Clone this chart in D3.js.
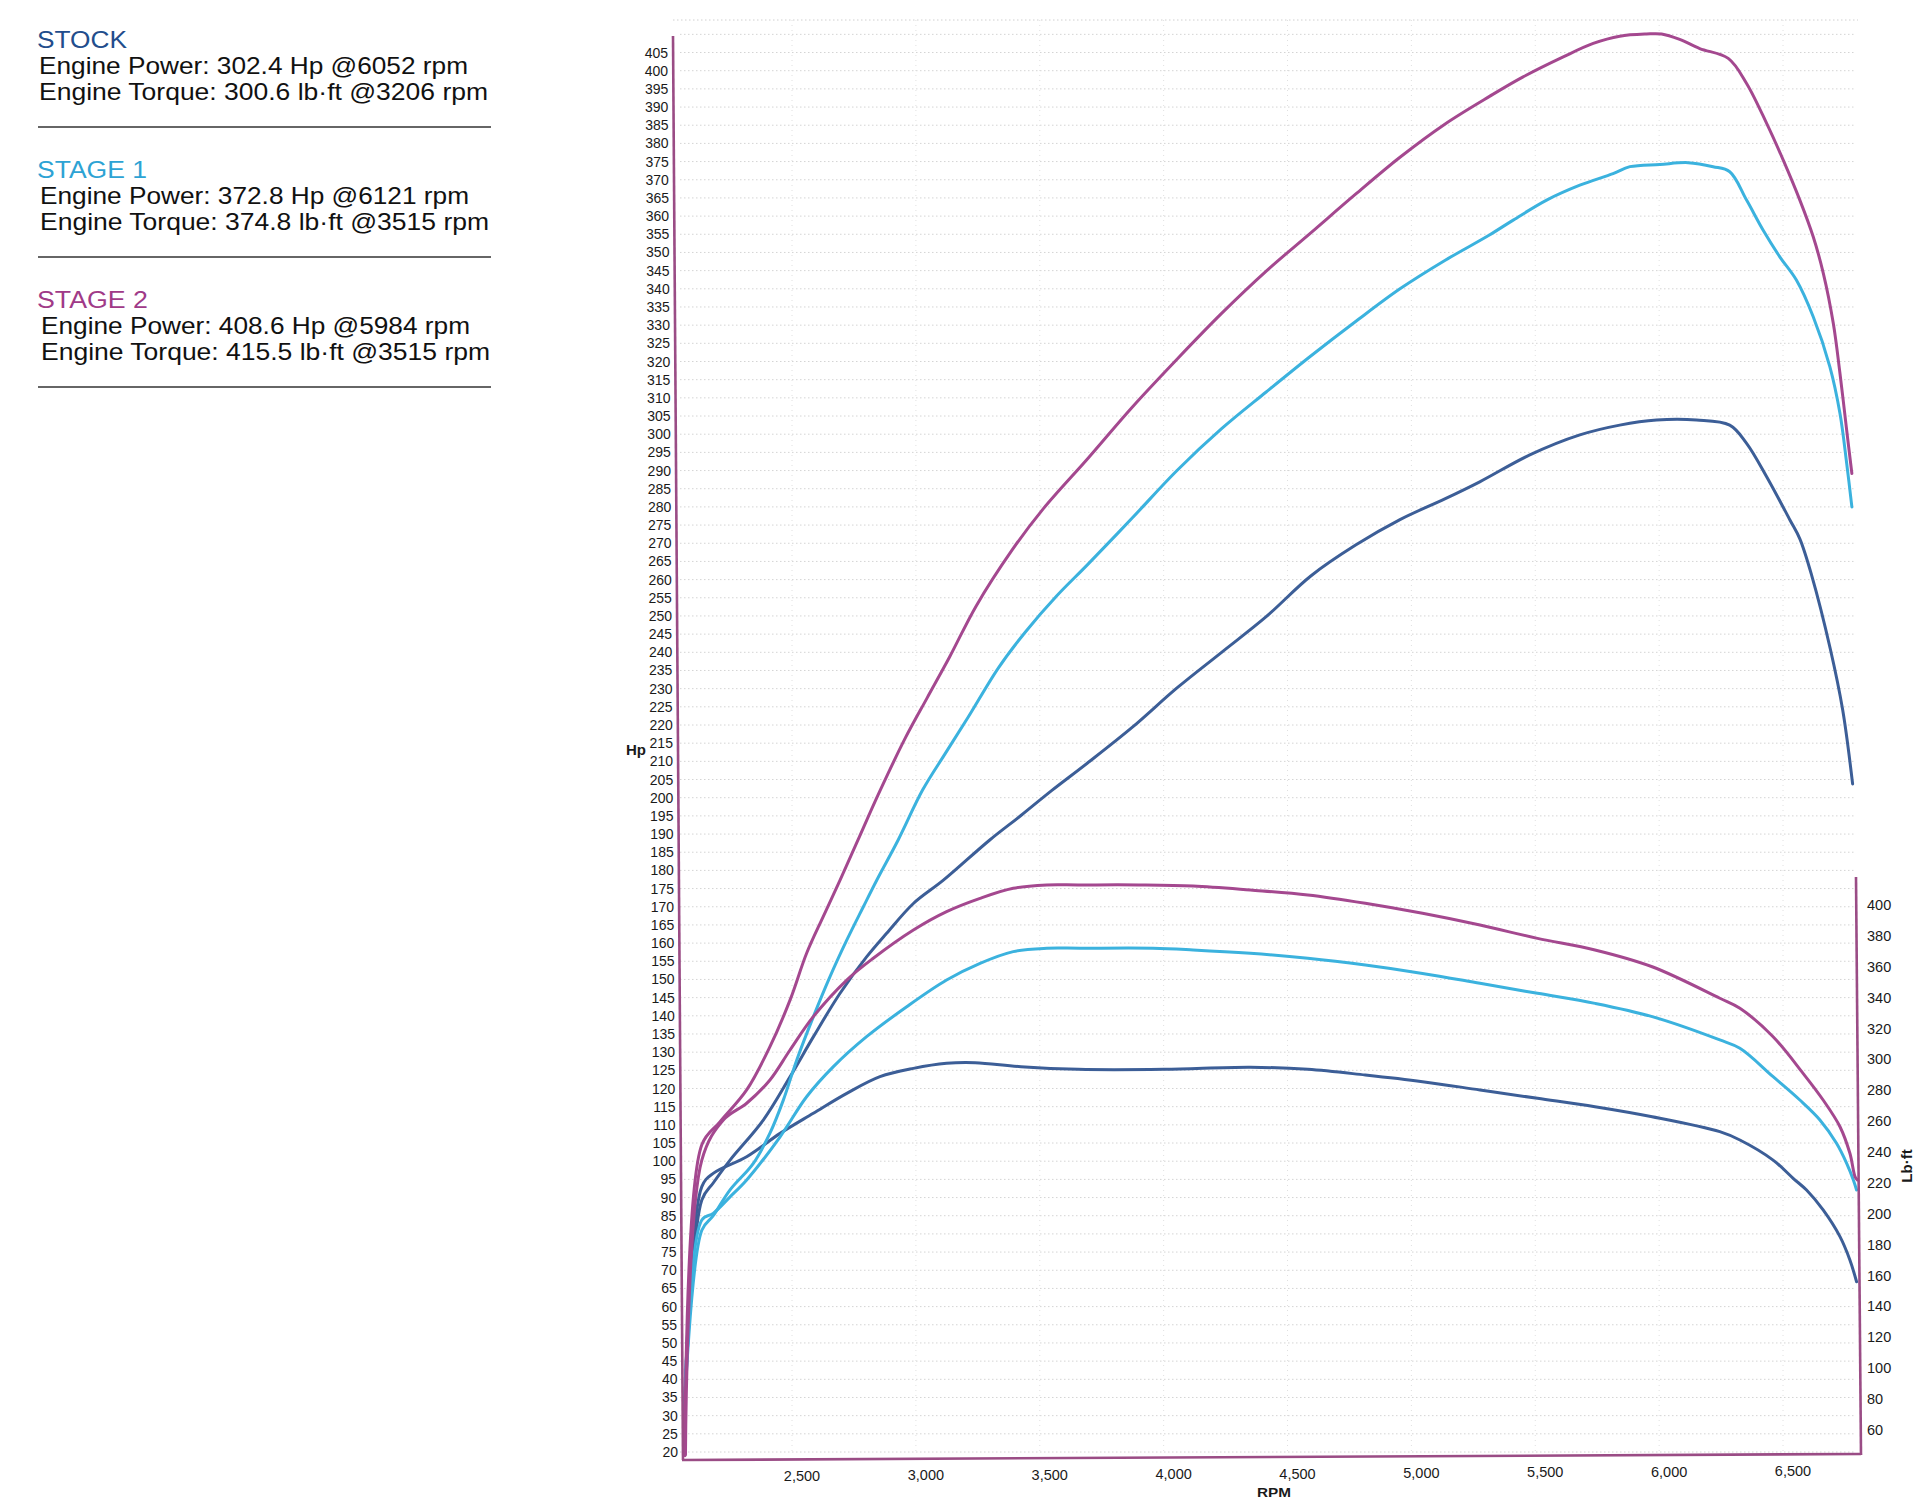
<!DOCTYPE html>
<html><head><meta charset="utf-8">
<script src="https://cdn.jsdelivr.net/npm/d3@7/dist/d3.min.js"></script>
<style>
html,body{margin:0;padding:0;background:#fff;}
svg{display:block;}
text{font-family:"Liberation Sans",Arial,sans-serif;}
</style></head><body>
<svg id="c" width="1920" height="1502"></svg>
<script>
// ---------- DATA ----------
const hpTicks = d3.range(20, 406, 5);
const tqTicks = d3.range(60, 401, 20);
const rpmTicks = [2500, 3000, 3500, 4000, 4500, 5000, 5500, 6000, 6500];
const rpmTickLabels = ["2,500", "3,000", "3,500", "4,000", "4,500", "5,000", "5,500", "6,000", "6,500"];

const seriesNames = ["STOCK", "STAGE 1", "STAGE 2"];
const peakPower = [302.4, 372.8, 408.6];
const peakPowerRpm = [6052, 6121, 5984];
const peakTorque = [300.6, 374.8, 415.5];
const peakTorqueRpm = [3206, 3515, 3515];

// [rpm, hp]
const stockHp = [[2066,30],[2136,89.3],[2182,94],[2250,100.3],[2384,111.3],[2492,123.2],[2586,134.2],[2694,146.2],[2801,156.2],[2882,162.7],[2990,170.9],[3111,177.3],[3297,188.3],[3424,195.1],[3549,202],[3694,209.6],[3874,219.4],[4054,230.2],[4234,240],[4414,249.8],[4594,261],[4775,269.5],[4954,276.5],[5135,282.2],[5276,286.9],[5478,294.3],[5680,299.8],[5841,302.5],[5990,303.9],[6151,303.9],[6285,302.5],[6353,297.5],[6434,288.3],[6528,276.4],[6568,271.2],[6616,261.1],[6691,240.9],[6741,224.1],[6781,203.8]];
const stage1Hp = [[2064,29],[2136,81],[2182,85],[2250,92.1],[2344,99.4],[2411,107.7],[2465,116.8],[2519,127.8],[2586,139.7],[2653,150.7],[2721,160.8],[2788,170],[2842,177.3],[2928,188.3],[3027,202.1],[3117,212],[3207,221.7],[3334,235.8],[3442,245.6],[3568,255.5],[3694,264.2],[3874,277],[4054,290],[4234,301.5],[4414,311.6],[4594,321.5],[4775,331],[4954,340],[5135,347.8],[5315,354.8],[5411,358.9],[5546,364.4],[5680,368.5],[5814,371.7],[5882,373.6],[6003,374.2],[6117,374.7],[6218,373.6],[6285,372.2],[6353,364.4],[6420,356.1],[6487,348.8],[6554,342.4],[6622,332.3],[6689,318.6],[6730,305.7],[6757,292],[6778,280]];
const stage2Hp = [[2068,19],[2136,104.5],[2209,110.8],[2317,119.6],[2411,131.5],[2492,144.3],[2559,157.2],[2626,167.3],[2694,177.3],[2766,188.3],[2847,200.7],[2955,216.1],[3045,227.4],[3136,238.7],[3243,252.7],[3388,268.1],[3513,279.4],[3695,293.4],[3874,307.5],[4055,320.7],[4235,333.3],[4413,344.8],[4594,355.4],[4776,366.1],[4954,376.2],[5135,385.3],[5317,393],[5451,398.3],[5613,403.8],[5734,407.5],[5841,409.5],[5949,410.1],[6010,410.1],[6083,408.6],[6164,406.1],[6279,403.4],[6353,396.5],[6434,385.5],[6501,375.4],[6568,364.4],[6622,354.3],[6663,344.2],[6703,330.5],[6730,316.7],[6757,301.1],[6778,289.2]];

// [rpm, lb-ft]
const stockTq = [[2066,70],[2136,217.6],[2182,226.2],[2317,237],[2452,252.1],[2586,265.1],[2721,278],[2855,288.8],[2990,294.2],[3124,297.5],[3239,297.9],[3424,295.3],[3655,293.6],[4002,293.6],[4350,294.9],[4582,293.6],[4814,289.9],[5045,285.6],[5277,280.2],[5509,274.8],[5741,269.4],[5972,262.9],[6245,253.2],[6326,247.8],[6460,234.8],[6541,223],[6595,215.4],[6662,202.5],[6730,185.2],[6770,170.1],[6797,156]];
const stage1Tq = [[2064,68],[2136,196],[2182,200.3],[2250,211],[2317,221.9],[2452,249.9],[2559,275.8],[2667,295.3],[2801,314.7],[2963,334.1],[3124,351.4],[3259,362.2],[3393,369.8],[3528,372],[3662,372],[3957,372],[4119,370.9],[4350,368.7],[4582,365.5],[4814,361.1],[5045,355.7],[5277,349.3],[5509,342.8],[5741,336.3],[5972,327.7],[6245,312.6],[6326,307.2],[6460,288.8],[6568,273.7],[6649,260.8],[6716,245.7],[6757,232.7],[6784,221.9],[6797,215.4]];
const stage2Tq = [[2070,44],[2136,234.8],[2223,260.8],[2317,271.6],[2411,286.7],[2492,306.1],[2586,327.7],[2721,351.4],[2828,365.5],[2990,383.8],[3124,395.7],[3259,404.3],[3393,410.8],[3528,413],[3655,413],[3900,413],[4119,412.3],[4350,409.7],[4582,406.5],[4814,401.1],[5045,394.6],[5277,387],[5509,378.4],[5741,370.9],[5972,360],[6245,339.6],[6326,333.1],[6460,314.7],[6581,291],[6662,273.7],[6730,256.4],[6770,239.2],[6791,224],[6800,222]];

// ---------- STYLE ----------
const curveColors = ["#3c5e97", "#3bb2de", "#a4488f"];
const titleColors = ["#224d8c", "#2da3d4", "#a03a88"];
const axisColor = "#9a4c85";

const svg = d3.select("#c");

// scales
const x = d3.scaleLinear().domain([2500, 6500]).range([792, 1783]);
const yHp = d3.scaleLinear().domain([20, 400]).range([1452, 70.7]);
const yTq = d3.scaleLinear().domain([60, 400]).range([1430, 905]);

const leftX = 678, rightX = 1858, bottomY = 1457, topLeftY = 36, topRightY = 877;

// ---------- grid ----------
const grid = svg.append("g");
grid.selectAll("line.h").data(hpTicks.concat([410])).join("line")
  .attr("x1", leftX + 2).attr("x2", rightX - 2)
  .attr("y1", d => yHp(d)).attr("y2", d => yHp(d))
  .attr("stroke", "#d4d4d4").attr("stroke-width", 1)
  .attr("stroke-dasharray", "1.5,2.5");
grid.selectAll("line.v").data(rpmTicks).join("line")
  .attr("x1", d => x(d)).attr("x2", d => x(d))
  .attr("y1", 20).attr("y2", bottomY - 2)
  .attr("stroke", "#e0e0e0").attr("stroke-width", 1)
  .attr("stroke-dasharray", "1,4");
grid.append("line").attr("x1", 673).attr("x2", rightX).attr("y1", 20).attr("y2", 20)
  .attr("stroke", "#d0d0d0").attr("stroke-dasharray", "1.5,2.5");

// ---------- curves ----------
const line = (ys) => d3.line().x(d => x(d[0])).y(d => ys(d[1])).curve(d3.curveCatmullRom.alpha(0.5));
const hpSeries = [stockHp, stage1Hp, stage2Hp];
const tqSeries = [stockTq, stage1Tq, stage2Tq];
const cg = svg.append("g").attr("fill", "none").attr("stroke-width", 3)
  .attr("stroke-linejoin", "round").attr("stroke-linecap", "round");
[0, 1, 2].forEach(i => {
  cg.append("path").attr("d", line(yTq)(tqSeries[i])).attr("stroke", curveColors[i]);
  cg.append("path").attr("d", line(yHp)(hpSeries[i])).attr("stroke", curveColors[i]);
});

// ---------- axes ----------
const ax = svg.append("g").attr("stroke", axisColor).attr("stroke-width", 2.6).attr("fill", "none");
ax.append("line").attr("x1", 673).attr("y1", topLeftY).attr("x2", 683).attr("y2", 1460);
ax.append("line").attr("x1", 682).attr("y1", 1460).attr("x2", 1861).attr("y2", 1454);
ax.append("line").attr("x1", 1856).attr("y1", topRightY).attr("x2", 1861).attr("y2", 1455);

// left hp labels (follow slight scan tilt)
svg.append("g").selectAll("text").data(hpTicks).join("text")
  .attr("x", d => 668 + 10 * (yHp(d) - 53) / 1400)
  .attr("y", d => yHp(d) + 5)
  .attr("text-anchor", "end").attr("font-size", 14).attr("fill", "#1a1a1a")
  .text(d => d);
svg.append("text").attr("x", 636).attr("y", 755).attr("text-anchor", "middle")
  .attr("font-size", 15).attr("font-weight", "bold").attr("fill", "#1a1a1a").text("Hp");

// right torque labels
svg.append("g").selectAll("text").data(tqTicks).join("text")
  .attr("x", 1867).attr("y", d => yTq(d) + 5)
  .attr("text-anchor", "start").attr("font-size", 14.5).attr("fill", "#1a1a1a")
  .text(d => d);
svg.append("text").attr("transform", "translate(1912,1166) rotate(-90)")
  .attr("text-anchor", "middle").attr("font-size", 15).attr("font-weight", "bold")
  .attr("fill", "#1a1a1a").text("Lb·ft");

// bottom rpm labels
svg.append("g").selectAll("text").data(rpmTicks).join("text")
  .attr("x", d => x(d) + 10).attr("y", (d, i) => 1481 - 5 * i / 8)
  .attr("text-anchor", "middle").attr("font-size", 14.5).attr("fill", "#1a1a1a")
  .text((d, i) => rpmTickLabels[i]);
svg.append("text").attr("x", 1274).attr("y", 1497).attr("text-anchor", "middle")
  .attr("font-size", 13).attr("font-weight", "bold").attr("fill", "#1a1a1a")
  .attr("textLength", 34).attr("lengthAdjust", "spacingAndGlyphs").text("RPM");

// ---------- summary text ----------
const blockTop = [48, 178, 308];
const titleLen = [90, 110, 111];
const txtX = [39, 40, 41];
const tg = svg.append("g");
[0, 1, 2].forEach(i => {
  const b = blockTop[i];
  tg.append("text").attr("x", 37).attr("y", b).attr("font-size", 23)
    .attr("fill", titleColors[i]).attr("textLength", titleLen[i])
    .attr("lengthAdjust", "spacingAndGlyphs").text(seriesNames[i]);
  tg.append("text").attr("x", txtX[i]).attr("y", b + 26).attr("font-size", 24)
    .attr("fill", "#111").attr("textLength", 429).attr("lengthAdjust", "spacingAndGlyphs")
    .text(`Engine Power: ${peakPower[i].toFixed(1)} Hp @${peakPowerRpm[i]} rpm`);
  tg.append("text").attr("x", txtX[i]).attr("y", b + 52).attr("font-size", 24)
    .attr("fill", "#111").attr("textLength", 449).attr("lengthAdjust", "spacingAndGlyphs")
    .text(`Engine Torque: ${peakTorque[i].toFixed(1)} lb·ft @${peakTorqueRpm[i]} rpm`);
  tg.append("line").attr("x1", 38).attr("x2", 491).attr("y1", b + 79).attr("y2", b + 79)
    .attr("stroke", "#333").attr("stroke-width", 1.6);
});
</script>
</body></html>
